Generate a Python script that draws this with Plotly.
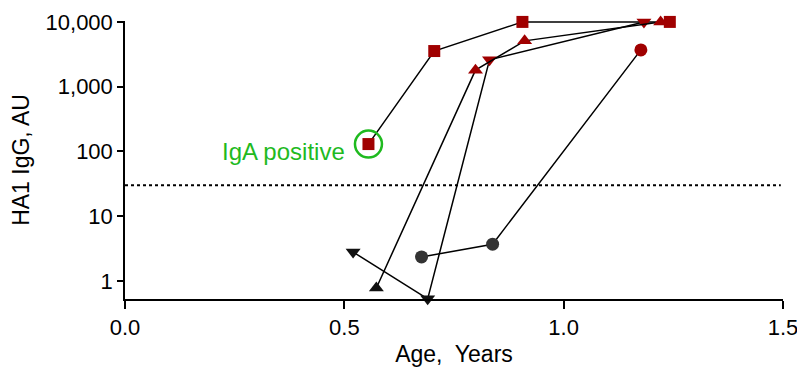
import plotly.graph_objects as go

RED = "#a00000"
BLK = "#111111"
GRY = "#333333"
GRN = "#1fba1f"

sq_x = [0.555, 0.705, 0.906, 1.242]
sq_y = [130, 3550, 10000, 10000]
sq_c = [RED, RED, RED, RED]

tdn_x = [0.52, 0.69, 0.831, 1.183]
tdn_y = [2.8, 0.53, 2600, 10000]
tdn_c = [BLK, BLK, RED, RED]

tup_x = [0.573, 0.799, 0.911, 1.221]
tup_y = [0.78, 1800, 5100, 10000]
tup_c = [BLK, RED, RED, RED]

ci_x = [0.676, 0.838, 1.176]
ci_y = [2.35, 3.7, 3700]
ci_c = [GRY, GRY, RED]

threshold = 30
iga_x, iga_y = 0.555, 130

yticks = [1, 10, 100, 1000, 10000]
yticktext = ["1", "10", "100", "1,000", "10,000"]
xticks = [0.0, 0.5, 1.0, 1.5]
xticktext = ["0.0", "0.5", "1.0", "1.5"]

FONT = "Arial"

fig = go.Figure()

def add(xs, ys, cs, sym, size):
    fig.add_trace(go.Scatter(
        x=xs, y=ys, mode="lines+markers",
        line=dict(color="black", width=1.5),
        marker=dict(symbol=sym, size=size, color=cs, line=dict(width=0)),
        cliponaxis=False, showlegend=False))

add(sq_x, sq_y, sq_c, "square", 12)
add(tdn_x, tdn_y, tdn_c, "triangle-down", 13)
add(tup_x, tup_y, tup_c, "triangle-up", 13)
add(ci_x, ci_y, ci_c, "circle", 13)

fig.add_trace(go.Scatter(
    x=[0, 1.495], y=[threshold, threshold], mode="lines",
    line=dict(color="black", width=2, dash="dot"), showlegend=False, hoverinfo="skip"))

fig.add_trace(go.Scatter(
    x=[iga_x], y=[iga_y], mode="markers",
    marker=dict(symbol="circle-open", size=27, color=GRN, line=dict(width=2.5, color=GRN)),
    cliponaxis=False, showlegend=False))

fig.add_annotation(x=0.507, y=2.0, xref="x", yref="y", text="IgA positive",
                   showarrow=False, xanchor="right", yanchor="middle",
                   font=dict(size=24, color=GRN, family=FONT))

fig.update_layout(
    width=797, height=378,
    margin=dict(l=125, r=14, t=21, b=79),
    plot_bgcolor="white", paper_bgcolor="white",
    font=dict(family=FONT, size=22, color="black"),
    xaxis=dict(range=[0, 1.5], tickvals=xticks, ticktext=xticktext,
               showline=True, linecolor="black", linewidth=1.5,
               ticks="outside", ticklen=8, tickwidth=1.5, tickcolor="black",
               showgrid=False, zeroline=False, automargin=False,
               ticklabeloverflow="allow",
               tickfont=dict(size=22, family=FONT),
               title=dict(text="Age,&nbsp; Years", standoff=7, font=dict(size=23, family=FONT))),
    yaxis=dict(type="log", range=[-0.278, 4.014], tickvals=yticks, ticktext=yticktext,
               showline=True, linecolor="black", linewidth=1.5,
               ticks="outside", ticklen=6, tickwidth=1.5, tickcolor="black",
               showgrid=False, zeroline=False, automargin=False,
               tickfont=dict(size=22, family=FONT),
               title=dict(text="HA1 IgG, AU", standoff=10, font=dict(size=23, family=FONT))),
)

fig.write_html("out.html", config={"displayModeBar": False},
               post_script="document.body.style.margin='0px';document.body.style.overflow='hidden';")
